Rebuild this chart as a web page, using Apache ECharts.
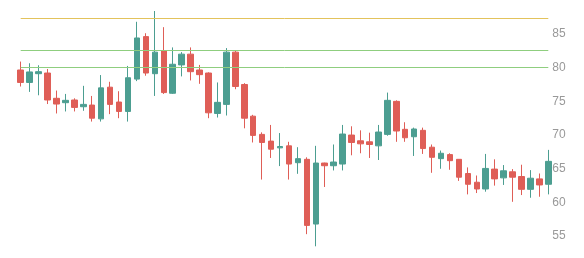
<!DOCTYPE html>
<html>
<head>
<meta charset="utf-8">
<script src="https://cdn.jsdelivr.net/npm/echarts@6/dist/echarts.min.js"></script>
<style>
html,body{margin:0;padding:0;background:#fff;}
#chart{width:584px;height:258px;}
</style>
</head>
<body>
<div id="chart"></div>
<script>
var categories = [];
for (var k = 1; k <= 60; k++) categories.push(String(k));

var openValues  = [79.65,77.8,79.1,79.2,75.45,74.8,75.2,74.2,74.45,72.4,77.1,74.9,73.5,78.3,84.6,79.1,82.5,76.2,80.4,82.0,79.65,79.2,73.2,74.55,82.3,77.5,72.8,70.1,69.1,68.1,68.4,65.9,66.4,56.8,65.85,65.45,65.7,70.0,69.15,69.0,68.4,70.1,75.0,70.85,69.75,70.7,68.2,66.5,67.1,66.4,64.3,63.0,62.0,64.95,63.65,64.55,63.85,61.95,63.5,62.7];
var closeValues = [77.8,79.36,79.4,75.2,74.6,75.15,74.1,74.55,72.5,77.0,74.55,73.5,78.5,84.4,79.2,82.3,76.3,80.5,82.0,79.4,78.96,73.3,74.85,82.3,77.2,72.5,69.95,68.9,67.9,68.3,65.7,66.5,56.6,65.85,65.45,66.0,70.15,68.9,68.7,68.6,70.45,75.15,70.6,69.6,70.9,68.0,66.7,67.3,66.2,63.75,62.7,62.0,65.05,63.5,64.7,63.75,61.95,63.6,62.6,66.1];
var lowValues   = [77.2,76.4,75.9,74.6,73.2,73.5,73.5,73.6,72.0,72.0,73.1,72.5,72.0,78.0,78.8,75.8,76.1,76.1,78.7,78.1,77.6,72.5,72.6,72.9,76.8,71.0,68.9,63.4,66.6,65.4,63.4,64.25,55.3,53.5,62.3,64.75,64.75,67.0,67.3,66.6,66.3,69.9,69.0,69.0,66.9,67.2,64.4,65.0,64.85,63.2,61.2,61.4,61.6,62.5,62.6,60.1,61.1,60.7,60.85,61.2];
var highValues  = [80.9,80.65,80.35,79.8,76.6,76.1,75.45,77.3,75.8,78.9,77.9,76.5,80.25,86.8,85.1,88.4,86.0,83.0,82.3,83.0,80.4,79.3,77.8,82.9,82.6,77.7,73.0,70.4,71.5,70.3,69.0,68.2,66.7,68.4,65.9,68.6,71.5,71.3,70.7,70.35,71.5,76.3,75.15,71.9,71.1,71.1,68.6,67.7,67.3,66.4,65.2,64.0,67.2,66.4,65.55,64.95,65.6,64.8,64.3,67.8];

var levelLines = [87.33, 82.6, 80.0];
var levelColors = ['#e3c35c', '#8fce7f', '#8fce7f'];

var candleData = [];
for (var i = 0; i < categories.length; i++) {
  candleData.push([openValues[i], closeValues[i], lowValues[i], highValues[i]]);
}

var markData = levelLines.map(function (v, i) {
  return { yAxis: v, lineStyle: { color: levelColors[i], width: 1, type: 'solid' } };
});

var chart = echarts.init(document.getElementById('chart'), null, { renderer: 'canvas' });
chart.setOption({
  animation: false,
  backgroundColor: '#ffffff',
  grid: { left: 20.7, right: 35.7, top: 11, bottom: 11.7 },
  xAxis: {
    type: 'category',
    data: categories,
    boundaryGap: false,
    show: false
  },
  yAxis: {
    type: 'value',
    position: 'right',
    scale: true,
    min: 'dataMin',
    max: 'dataMax',
    splitLine: { show: false },
    axisLine: { show: false },
    axisTick: { show: false },
    axisLabel: {
      color: '#999999',
      fontSize: 12,
      margin: 4,
      showMinLabel: false,
      showMaxLabel: false,
      fontFamily: 'sans-serif'
    }
  },
  series: [{
    type: 'candlestick',
    data: candleData,
    barWidth: 6,
    itemStyle: {
      color: '#4c9e91',
      color0: '#df5e57',
      borderColor: '#4c9e91',
      borderColor0: '#df5e57',
      borderWidth: 1
    },
    markLine: {
      silent: true,
      symbol: ['none', 'none'],
      label: { show: false },
      data: markData
    }
  }]
});
</script>
</body>
</html>
